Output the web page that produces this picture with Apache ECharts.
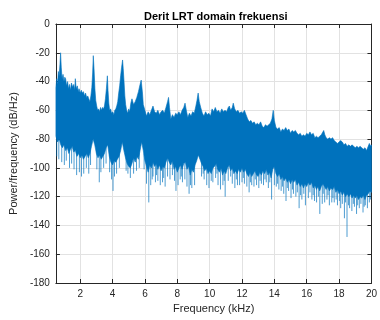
<!DOCTYPE html>
<html>
<head>
<meta charset="utf-8">
<script src="https://cdn.jsdelivr.net/npm/echarts@6/dist/echarts.min.js"></script>
<style>
  html, body { margin: 0; padding: 0; background: #fff; }
  #chart { width: 380px; height: 320px; }
</style>
</head>
<body>
<div id="chart"></div>
<script>
// x tick labels (kHz)
const xTicks = [2, 4, 6, 8, 10, 12, 14, 16, 18, 20];

// top edge of the PSD band, [kHz, dB/Hz]
const upperEnv = [
  [0.5, -44], [0.55, -38], [0.6, -42], [0.65, -33], [0.7, -36], [0.75, -28], [0.79, -20], [0.83, -30],
  [0.88, -38], [0.94, -35], [1.0, -40], [1.05, -37], [1.1, -38], [1.16, -43], [1.22, -40], [1.28, -45],
  [1.34, -42], [1.4, -46], [1.46, -41], [1.54, -44], [1.6, -42], [1.66, -46], [1.7, -38], [1.75, -45],
  [1.82, -43], [1.88, -47], [1.93, -45], [2.0, -48], [2.07, -46], [2.13, -48], [2.2, -47], [2.27, -50],
  [2.33, -48], [2.4, -51], [2.47, -50], [2.53, -52], [2.6, -54], [2.66, -50], [2.72, -44], [2.77, -34],
  [2.81, -22], [2.86, -32], [2.91, -45], [2.96, -53], [3.02, -57], [3.08, -60], [3.14, -59], [3.2, -61],
  [3.26, -58], [3.32, -60], [3.38, -58], [3.44, -59], [3.5, -57], [3.56, -52], [3.62, -45], [3.68, -36],
  [3.72, -46], [3.77, -55], [3.82, -60], [3.88, -59], [3.94, -62], [4.01, -61], [4.08, -63], [4.14, -60],
  [4.2, -59], [4.26, -57], [4.32, -54], [4.38, -48], [4.44, -43], [4.5, -36], [4.56, -30], [4.62, -25],
  [4.66, -31], [4.71, -40], [4.76, -50], [4.81, -56], [4.87, -60], [4.94, -62], [5.0, -59], [5.06, -61],
  [5.13, -55], [5.2, -52], [5.3, -56], [5.4, -54], [5.5, -51], [5.6, -47], [5.7, -42], [5.77, -39],
  [5.85, -48], [5.9, -56], [6.0, -60], [6.1, -64], [6.2, -61], [6.3, -63], [6.4, -60], [6.5, -57],
  [6.6, -61], [6.7, -62], [6.8, -60], [6.9, -63], [7.0, -61], [7.1, -60], [7.2, -62], [7.3, -58],
  [7.4, -54], [7.46, -51], [7.52, -58], [7.6, -66], [7.7, -63], [7.8, -65], [7.9, -62], [8.0, -63],
  [8.1, -61], [8.2, -63], [8.3, -60], [8.4, -58], [8.48, -55], [8.56, -60], [8.65, -65], [8.75, -62],
  [8.85, -64], [8.95, -61], [9.05, -62], [9.15, -57], [9.22, -53], [9.29, -48], [9.36, -54], [9.45, -58],
  [9.55, -62], [9.65, -64], [9.75, -61], [9.85, -63], [9.95, -62], [10.05, -64], [10.15, -59], [10.25, -61],
  [10.35, -58], [10.45, -61], [10.55, -60], [10.65, -62], [10.75, -59], [10.85, -61], [10.95, -60], [11.05, -61],
  [11.15, -58], [11.22, -57], [11.3, -60], [11.4, -58], [11.46, -55], [11.55, -59], [11.65, -61], [11.75, -60],
  [11.85, -62], [11.95, -61], [12.05, -62], [12.15, -60], [12.25, -63], [12.35, -66], [12.45, -68], [12.55, -67],
  [12.65, -69], [12.75, -68], [12.85, -70], [12.95, -69], [13.05, -70], [13.15, -68], [13.25, -71], [13.35, -72],
  [13.45, -70], [13.55, -71], [13.65, -70], [13.75, -69], [13.85, -66], [13.93, -60], [14.0, -67], [14.1, -72],
  [14.2, -73], [14.3, -72], [14.4, -75], [14.5, -73], [14.6, -74], [14.7, -72], [14.8, -74], [14.9, -73],
  [15.0, -76], [15.1, -74], [15.2, -75], [15.3, -74], [15.4, -76], [15.5, -77], [15.6, -76], [15.7, -78],
  [15.8, -77], [15.9, -78], [16.0, -76], [16.1, -77], [16.2, -75], [16.3, -77], [16.4, -76], [16.5, -79],
  [16.6, -78], [16.7, -79], [16.8, -78], [16.9, -77], [17.0, -75], [17.05, -74], [17.12, -77], [17.2, -79],
  [17.3, -80], [17.4, -79], [17.5, -80], [17.6, -79], [17.7, -81], [17.8, -82], [17.9, -83], [18.0, -82],
  [18.1, -81], [18.2, -82], [18.3, -84], [18.4, -83], [18.5, -85], [18.6, -84], [18.7, -85], [18.8, -84],
  [18.9, -85], [19.0, -86], [19.1, -85], [19.2, -86], [19.3, -85], [19.4, -86], [19.5, -87], [19.6, -86],
  [19.7, -88], [19.8, -85], [19.87, -83], [19.95, -85], [20.0, -84]
];

// dense bottom edge of the band, [kHz, dB/Hz]
const lowerEnv = [
  [0.5, -78], [0.6, -82], [0.7, -80], [0.8, -84], [0.9, -86], [1.0, -84], [1.1, -88], [1.2, -86],
  [1.3, -90], [1.4, -87], [1.5, -85], [1.6, -89], [1.7, -88], [1.8, -92], [1.9, -90], [2.0, -93],
  [2.1, -91], [2.2, -94], [2.3, -92], [2.4, -90], [2.5, -93], [2.6, -90], [2.7, -85], [2.8, -80],
  [2.9, -84], [3.0, -90], [3.1, -93], [3.2, -91], [3.3, -94], [3.4, -92], [3.5, -90], [3.6, -86],
  [3.7, -84], [3.8, -92], [3.9, -96], [4.0, -98], [4.1, -95], [4.2, -96], [4.3, -94], [4.4, -92],
  [4.5, -88], [4.6, -82], [4.7, -88], [4.8, -93], [4.9, -97], [5.0, -99], [5.1, -100], [5.2, -97],
  [5.3, -93], [5.4, -96], [5.5, -92], [5.6, -94], [5.7, -88], [5.8, -82], [5.9, -88], [6.0, -95],
  [6.1, -99], [6.2, -103], [6.3, -98], [6.4, -100], [6.5, -96], [6.6, -99], [6.7, -97], [6.8, -101],
  [6.9, -98], [7.0, -102], [7.1, -99], [7.2, -100], [7.3, -96], [7.4, -93], [7.5, -96], [7.6, -98],
  [7.7, -95], [7.8, -101], [7.9, -99], [8.0, -103], [8.1, -100], [8.2, -98], [8.3, -101], [8.4, -97],
  [8.5, -96], [8.6, -101], [8.7, -99], [8.8, -105], [8.9, -101], [9.0, -103], [9.1, -98], [9.2, -95],
  [9.3, -91], [9.4, -94], [9.5, -97], [9.6, -99], [9.7, -102], [9.8, -100], [9.9, -104], [10.0, -102],
  [10.1, -104], [10.2, -100], [10.3, -99], [10.4, -97], [10.5, -101], [10.6, -103], [10.7, -100], [10.8, -105],
  [10.9, -102], [11.0, -104], [11.1, -100], [11.2, -98], [11.3, -102], [11.4, -100], [11.5, -104], [11.6, -102],
  [11.7, -104], [11.8, -101], [11.9, -103], [12.0, -100], [12.1, -103], [12.2, -101], [12.3, -104], [12.4, -106],
  [12.5, -103], [12.6, -106], [12.7, -104], [12.8, -102], [12.9, -105], [13.0, -106], [13.1, -103], [13.2, -105],
  [13.3, -102], [13.4, -104], [13.5, -101], [13.6, -105], [13.7, -103], [13.8, -107], [13.9, -101], [14.0, -99],
  [14.1, -104], [14.2, -106], [14.3, -104], [14.4, -108], [14.5, -106], [14.6, -109], [14.7, -107], [14.8, -110],
  [14.9, -108], [15.0, -111], [15.1, -108], [15.2, -110], [15.3, -108], [15.4, -112], [15.5, -110], [15.6, -113],
  [15.7, -111], [15.8, -114], [15.9, -111], [16.0, -113], [16.1, -110], [16.2, -112], [16.3, -110], [16.4, -114],
  [16.5, -112], [16.6, -115], [16.7, -113], [16.8, -116], [16.9, -113], [17.0, -111], [17.1, -113], [17.2, -115],
  [17.3, -113], [17.4, -116], [17.5, -114], [17.6, -115], [17.7, -113], [17.8, -117], [17.9, -115], [18.0, -118],
  [18.1, -116], [18.2, -119], [18.3, -117], [18.4, -120], [18.5, -118], [18.6, -120], [18.7, -118], [18.8, -121],
  [18.9, -119], [19.0, -121], [19.1, -119], [19.2, -122], [19.3, -120], [19.4, -121], [19.5, -119], [19.6, -122],
  [19.7, -119], [19.8, -118], [19.9, -116], [20.0, -117]
];

// thin downward spikes below the band, [kHz, from dB, to dB]
const lowSpikes = [
  [0.55, -78, -92], [0.68, -78, -94], [0.86, -78, -96], [1.02, -84, -98], [1.14, -84, -95], [1.34, -84, -100],
  [1.47, -84, -97], [1.62, -84, -101], [1.78, -84, -105], [1.95, -84, -103], [2.08, -88, -106], [2.22, -88, -104],
  [2.38, -88, -100], [2.53, -88, -104], [2.64, -86, -98], [3.03, -88, -101], [3.18, -88, -110], [3.28, -88, -103],
  [3.45, -88, -100], [3.6, -84, -97], [3.82, -90, -103], [3.94, -90, -108], [4.03, -90, -116], [4.12, -90, -106],
  [4.25, -90, -104], [4.42, -86, -100], [4.84, -88, -102], [4.95, -92, -104], [5.1, -92, -107], [5.3, -92, -104],
  [5.48, -90, -102], [5.65, -88, -100], [6.1, -94, -111], [6.24, -94, -124], [6.36, -94, -112], [6.5, -94, -106],
  [6.65, -94, -110], [6.8, -94, -109], [6.95, -94, -112], [7.09, -94, -110], [7.25, -94, -113], [7.4, -90, -106],
  [7.55, -94, -108], [7.7, -94, -105], [7.92, -96, -116], [8.05, -96, -112], [8.18, -96, -108], [8.32, -96, -110],
  [8.47, -96, -108], [8.6, -96, -113], [8.73, -96, -118], [8.9, -96, -114], [9.07, -96, -112], [9.5, -92, -106],
  [9.66, -94, -108], [9.82, -96, -112], [9.96, -97, -114], [10.2, -97, -110], [10.37, -97, -107], [10.52, -97, -112],
  [10.67, -97, -115], [10.82, -98, -112], [10.96, -98, -120], [11.15, -97, -109], [11.4, -97, -111], [11.56, -98, -114],
  [11.72, -98, -112], [11.85, -98, -112], [12.0, -98, -110], [12.15, -98, -111], [12.3, -99, -113], [12.44, -99, -117],
  [12.6, -100, -112], [12.74, -99, -113], [12.9, -99, -112], [13.04, -100, -114], [13.2, -99, -111], [13.33, -99, -112],
  [13.5, -99, -110], [13.63, -100, -114], [13.83, -100, -122], [14.0, -97, -112], [14.12, -101, -113], [14.28, -102, -115],
  [14.42, -102, -116], [14.58, -103, -118], [14.72, -104, -123], [14.88, -104, -116], [15.03, -105, -121], [15.18, -105, -118],
  [15.33, -106, -120], [15.53, -107, -128], [15.7, -108, -122], [15.92, -108, -126], [16.1, -107, -121], [16.32, -107, -122],
  [16.48, -108, -123], [16.61, -109, -124], [16.81, -110, -132], [16.96, -108, -125], [17.11, -109, -124], [17.25, -110, -122],
  [17.4, -110, -126], [17.55, -110, -124], [17.7, -110, -124], [17.9, -112, -126], [18.1, -113, -128], [18.33, -114, -135],
  [18.49, -114, -148], [18.65, -114, -128], [18.79, -115, -130], [18.95, -115, -127], [19.08, -115, -132], [19.25, -116, -128],
  [19.48, -116, -131], [19.62, -116, -126], [19.75, -115, -128], [19.87, -114, -124],
  [5.95, -90, -101], [6.45, -94, -108], [6.72, -94, -105], [7.16, -94, -107], [7.83, -96, -109], [8.25, -96, -106],
  [8.82, -98, -112], [9.6, -95, -104], [10.1, -97, -109], [10.45, -96, -104], [10.9, -98, -109], [11.3, -97, -106],
  [11.65, -98, -108], [12.08, -98, -107], [12.52, -100, -110], [12.82, -99, -108], [13.12, -100, -109], [13.42, -99, -108],
  [13.72, -100, -110], [14.2, -101, -111], [14.5, -103, -113], [14.8, -104, -114], [15.12, -105, -115], [15.42, -107, -117],
  [15.62, -108, -119], [15.82, -108, -118], [16.2, -107, -117], [16.4, -108, -119], [16.72, -109, -120], [17.02, -108, -118],
  [17.32, -110, -119], [17.62, -110, -121], [17.82, -112, -122], [18.02, -113, -123], [18.2, -114, -125], [18.4, -114, -124],
  [18.58, -114, -126], [18.88, -115, -125], [19.15, -115, -126], [19.35, -116, -125], [19.55, -116, -127], [19.95, -113, -122]
];

const font = "'Liberation Sans', Arial, Helvetica, sans-serif";
const axisColor = '#262626';
const gridColor = '#e2e2e2';
const lineBlue = '#0072bd';

const chart = echarts.init(document.getElementById('chart'), null, { renderer: 'canvas' });

const option = {
  animation: false,
  backgroundColor: '#ffffff',
  title: {
    text: 'Derit LRT domain frekuensi',
    left: 139,
    top: 6,
    textStyle: { fontFamily: font, fontSize: 11, fontWeight: 'bold', color: '#000000' },
  },
  grid: { left: 48, right: 3, top: 24, bottom: 37 },
  xAxis: [
    {
      type: 'value',
      min: 0.5,
      max: 20,
      position: 'bottom',
      name: 'Frequency (kHz)',
      nameLocation: 'middle',
      nameGap: 19,
      nameTextStyle: { fontFamily: font, fontSize: 11, color: axisColor },
      axisLine: { show: true, onZero: false, lineStyle: { color: axisColor, width: 1 } },
      axisTick: { show: true, inside: true, length: 4, customValues: xTicks, lineStyle: { color: axisColor } },
      axisLabel: { customValues: xTicks, fontFamily: font, fontSize: 10, color: axisColor, margin: 6 },
      splitLine: { show: true, lineStyle: { color: gridColor, width: 1 } },
    },
    {
      type: 'value',
      min: 0.5,
      max: 20,
      position: 'top',
      axisLine: { show: true, onZero: false, lineStyle: { color: axisColor, width: 1 } },
      axisTick: { show: true, inside: true, length: 4, customValues: xTicks, lineStyle: { color: axisColor } },
      axisLabel: { show: false },
      splitLine: { show: false },
    },
  ],
  yAxis: [
    {
      type: 'value',
      min: -180,
      max: 0,
      interval: 20,
      position: 'left',
      name: 'Power/frequency (dB/Hz)',
      nameLocation: 'middle',
      nameGap: 33,
      nameTextStyle: { fontFamily: font, fontSize: 11, color: axisColor },
      axisLine: { show: true, onZero: false, lineStyle: { color: axisColor, width: 1 } },
      axisTick: { show: true, inside: true, length: 4, lineStyle: { color: axisColor } },
      axisLabel: { fontFamily: font, fontSize: 10, color: axisColor, margin: 6 },
      splitLine: { show: true, lineStyle: { color: gridColor, width: 1 } },
    },
    {
      type: 'value',
      min: -180,
      max: 0,
      interval: 20,
      position: 'right',
      axisLine: { show: true, onZero: false, lineStyle: { color: axisColor, width: 1 } },
      axisTick: { show: true, inside: true, length: 4, lineStyle: { color: axisColor } },
      axisLabel: { show: false },
      splitLine: { show: false },
    },
  ],
  series: [
    {
      // thin spikes under the band
      type: 'custom',
      xAxisIndex: 0,
      yAxisIndex: 0,
      silent: true,
      z: 2,
      data: lowSpikes,
      encode: { x: 0, y: [1, 2] },
      renderItem: (params, api) => {
        const a = api.coord([api.value(0), api.value(1)]);
        const b = api.coord([api.value(0), api.value(2)]);
        return {
          type: 'line',
          shape: { x1: a[0], y1: a[1], x2: b[0], y2: b[1] },
          style: { stroke: 'rgba(0,114,189,0.7)', lineWidth: 1 },
        };
      },
    },
    {
      // dense band between the envelopes
      type: 'custom',
      xAxisIndex: 0,
      yAxisIndex: 0,
      silent: true,
      z: 3,
      data: [upperEnv[0]],
      encode: { x: 0, y: 1 },
      renderItem: (params, api) => {
        const pts = upperEnv.map((p) => api.coord(p))
          .concat(lowerEnv.slice().reverse().map((p) => api.coord(p)));
        return {
          type: 'polygon',
          shape: { points: pts },
          style: { fill: lineBlue, stroke: lineBlue, lineWidth: 0.6 },
        };
      },
    },
  ],
};

chart.setOption(option);
</script>
</body>
</html>
